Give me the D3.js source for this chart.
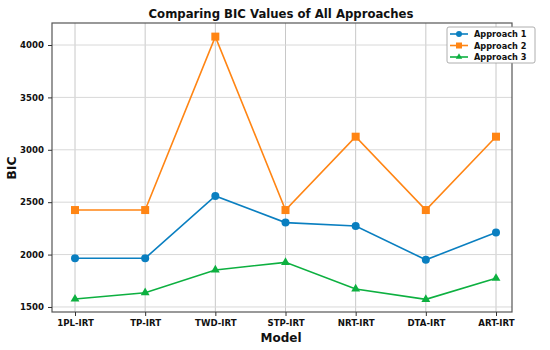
<!DOCTYPE html>
<html><head><meta charset="utf-8">
<script src="https://cdn.jsdelivr.net/npm/d3@7"></script>
<style>body{margin:0;background:#fff;} text{font-family:"DejaVu Sans",sans-serif;}</style>
</head><body><svg id="c" width="550" height="350"></svg>
<script>
const models = ["1PL-IRT","TP-IRT","TWD-IRT","STP-IRT","NRT-IRT","DTA-IRT","ART-IRT"];
const approach1 = [1965,1965,2560,2305,2273,1950,2210];
const approach2 = [2425,2425,4080,2425,3125,2425,3125];
const approach3 = [1576,1636,1853,1926,1672,1573,1774];
const yTicks = [1500,2000,2500,3000,3500,4000];
const seriesNames = ["Approach 1","Approach 2","Approach 3"];
const colors = ["#0a7fc0","#ff8514","#0db040"];

const svg = d3.select("#c");
const L=52, R=512, T=23, B=312;
const x = d3.scalePoint().domain(models).range([75,496]);
const y = d3.scaleLinear().domain([1452,4210]).range([B,T]);

// grid
const g = svg.append("g");
g.selectAll(".vg").data(models).enter().append("line")
 .attr("x1",d=>x(d)).attr("x2",d=>x(d)).attr("y1",T).attr("y2",B)
 .attr("stroke","#c8c8c8").attr("stroke-width",1);
g.selectAll(".hg").data(yTicks).enter().append("line")
 .attr("x1",L).attr("x2",R).attr("y1",d=>y(d)).attr("y2",d=>y(d))
 .attr("stroke","#d8d8d8").attr("stroke-width",1);

// frame
svg.append("rect").attr("x",L).attr("y",T).attr("width",R-L).attr("height",B-T)
 .attr("fill","none").attr("stroke","#555").attr("stroke-width",1.2);

// axes
const xa = svg.append("g").attr("transform",`translate(0,${B})`)
 .call(d3.axisBottom(x).tickSize(4).tickPadding(4));
const ya = svg.append("g").attr("transform",`translate(${L},0)`)
 .call(d3.axisLeft(y).tickValues(yTicks).tickFormat(d3.format("d")).tickSize(4).tickPadding(4));
[xa,ya].forEach(a=>{a.select(".domain").remove();
 a.selectAll("text").attr("font-size","8.6px").attr("font-weight","bold").attr("fill","#111").attr("font-family","DejaVu Sans, sans-serif");
 a.selectAll("line").attr("stroke","#333");});

const data=[approach1,approach2,approach3];
const line = d3.line().x((d,i)=>x(models[i])).y(d=>y(d));
data.forEach((vals,k)=>{
 svg.append("path").datum(vals).attr("d",line).attr("fill","none")
  .attr("stroke",colors[k]).attr("stroke-width",1.6);
 const m = svg.append("g");
 vals.forEach((v,i)=>{
  const cx=x(models[i]), cy=y(v);
  if(k===0) m.append("circle").attr("cx",cx).attr("cy",cy).attr("r",4).attr("fill",colors[k]);
  else if(k===1) m.append("rect").attr("x",cx-4).attr("y",cy-4).attr("width",8).attr("height",8).attr("fill",colors[k]);
  else m.append("path").attr("d",d3.symbol(d3.symbolTriangle,34)()).attr("transform",`translate(${cx},${cy})`).attr("fill",colors[k]);
 });
});

// title and labels
svg.append("text").attr("x",281).attr("y",18).attr("text-anchor","middle")
 .attr("font-size","11.7px").attr("font-weight","bold").attr("fill","#111").text("Comparing BIC Values of All Approaches");
svg.append("text").attr("x",281).attr("y",342).attr("text-anchor","middle")
 .attr("font-size","12px").attr("font-weight","bold").attr("fill","#111").text("Model");
svg.append("text").attr("transform","translate(16,168) rotate(-90)").attr("text-anchor","middle")
 .attr("font-size","12.5px").attr("font-weight","bold").attr("fill","#111").text("BIC");

// legend
const lg = svg.append("g").attr("transform","translate(447,27)");
lg.append("rect").attr("width",88).attr("height",36).attr("rx",2).attr("fill","#fff")
 .attr("stroke","#999").attr("stroke-width",0.8);
seriesNames.forEach((n,k)=>{
 const yy=7+k*11.5;
 lg.append("line").attr("x1",3).attr("x2",21).attr("y1",yy).attr("y2",yy).attr("stroke",colors[k]).attr("stroke-width",1.6);
 if(k===0) lg.append("circle").attr("cx",12).attr("cy",yy).attr("r",3).attr("fill",colors[k]);
 else if(k===1) lg.append("rect").attr("x",9).attr("y",yy-3).attr("width",6).attr("height",6).attr("fill",colors[k]);
 else lg.append("path").attr("d",d3.symbol(d3.symbolTriangle,18)()).attr("transform",`translate(12,${yy})`).attr("fill",colors[k]);
 lg.append("text").attr("x",27).attr("y",yy+3).attr("font-size","8.2px").attr("font-weight","bold").attr("fill","#111").text(n);
});
</script></body></html>
